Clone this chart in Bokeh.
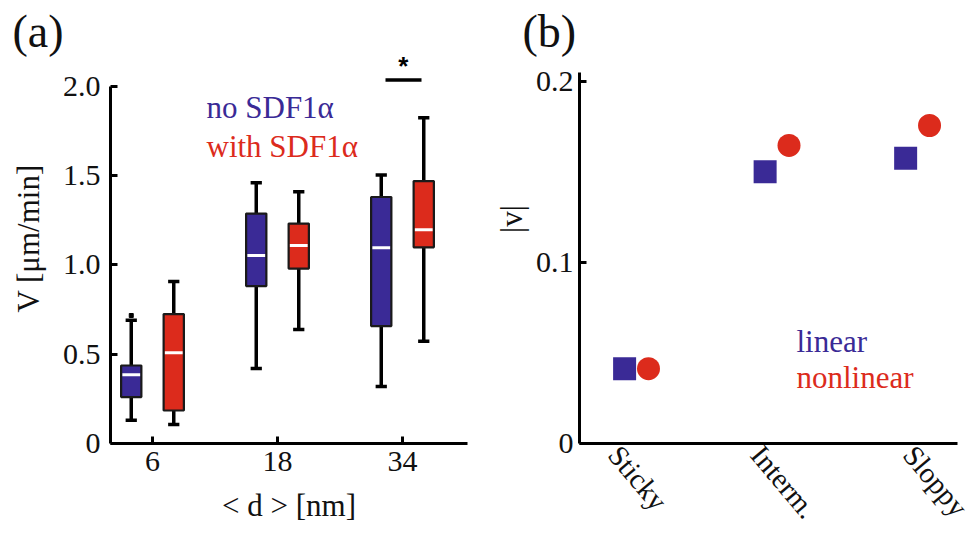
import math
from bokeh.plotting import figure
from bokeh.layouts import row
from bokeh.models import ColumnDataSource, Range1d, FixedTicker, Label
from bokeh.embed import file_html
from bokeh.resources import INLINE

# ---------------- data: panel (a) ----------------
d_labels = ["6", "18", "34"]
d_pos = [1, 2, 3]
no_low = [0.13, 0.42, 0.32]
no_q1 = [0.26, 0.882, 0.658]
no_med = [0.385, 1.053, 1.097]
no_q3 = [0.437, 1.288, 1.381]
no_high = [0.69, 1.461, 1.504]
no_outlier_x = [1]
no_outlier_y = [0.717]
with_low = [0.106, 0.638, 0.573]
with_q1 = [0.185, 0.98, 1.099]
with_med = [0.508, 1.109, 1.198]
with_q3 = [0.725, 1.232, 1.47]
with_high = [0.907, 1.411, 1.825]

# ---------------- data: panel (b) ----------------
regimes = ["Sticky", "Interm.", "Sloppy"]
regime_pos = [1, 2, 3]
regime_label_pos = [0.84, 1.855, 2.94]
v_linear = [0.0413, 0.150, 0.1575]
v_nonlinear = [0.0413, 0.1646, 0.1756]

BLUE = "#3a2a96"
RED = "#dc2b1c"
FONT = "Liberation Serif"
TICK_FS = "30px"
LAB_FS = "31px"
NB = "\u00a0"


def style_axes(p):
    for ax in (p.xaxis[0], p.yaxis[0]):
        ax.axis_line_width = 3
        ax.axis_line_color = "black"
        ax.major_tick_line_width = 3
        ax.major_tick_line_color = "black"
        ax.major_tick_in = 7
        ax.major_tick_out = 0
        ax.minor_tick_line_color = None
        ax.major_label_text_font = FONT
        ax.major_label_text_font_size = TICK_FS
        ax.major_label_text_color = "#111111"
        ax.axis_label_text_font = FONT
        ax.axis_label_text_font_size = LAB_FS
        ax.axis_label_text_font_style = "normal"
        ax.axis_label_text_color = "#111111"
    p.xgrid.visible = False
    p.ygrid.visible = False
    p.outline_line_color = None
    p.title.text_font = FONT
    p.title.text_font_size = "46px"
    p.title.text_font_style = "normal"
    p.title.text_color = "#111111"
    p.title.align = "left"
    p.title.standoff = 0


def text_label(x, y, text, color, size=LAB_FS, font=FONT, **kw):
    return Label(x=x, y=y, text=text, text_font=font, text_font_size=size,
                 text_color=color, **kw)


# ================= panel (a) =================
p1 = figure(width=490, height=537, output_backend="svg", toolbar_location=None,
            title="(a)",
            x_range=Range1d(0.664, 3.52), y_range=Range1d(0, 2.168),
            min_border_left=110, min_border_right=23, min_border_top=56, min_border_bottom=94)
style_axes(p1)
p1.title.offset = -98
p1.xaxis.ticker = FixedTicker(ticks=d_pos)
p1.xaxis.major_label_overrides = {pos: lab for pos, lab in zip(d_pos, d_labels)}
p1.yaxis.ticker = FixedTicker(ticks=[0, 0.5, 1.0, 1.5, 2.0])
p1.yaxis.major_label_overrides = {0: "0", 0.5: "0.5", 1: "1.0", 1.5: "1.5", 2: "2.0"}
p1.yaxis.bounds = (0, 2.0)
p1.xaxis.axis_label = "< d > [nm]"
p1.yaxis.axis_label = NB * 3 + "V [\u03bcm/min]"
p1.yaxis.major_label_standoff = 10
p1.xaxis.major_label_standoff = 8
p1.yaxis.axis_label_standoff = 14
p1.xaxis.axis_label_standoff = 14

OFF = 0.17
BW = 0.162
CAP = 0.09


def draw_boxes(p, pos, low, q1, med, q3, high, color, off):
    xs = [x + off for x in pos]
    src = ColumnDataSource(dict(
        x=xs, low=low, q1=q1, med=med, q3=q3, high=high,
        cl=[x - CAP / 2 for x in xs], cr=[x + CAP / 2 for x in xs],
        ml=[x - BW / 2 + 0.01 for x in xs], mr=[x + BW / 2 - 0.01 for x in xs]))
    p.segment(x0="x", y0="q3", x1="x", y1="high", source=src, line_color="black", line_width=3.5)
    p.segment(x0="x", y0="low", x1="x", y1="q1", source=src, line_color="black", line_width=3.5)
    p.segment(x0="cl", y0="high", x1="cr", y1="high", source=src, line_color="black", line_width=3.5)
    p.segment(x0="cl", y0="low", x1="cr", y1="low", source=src, line_color="black", line_width=3.5)
    p.vbar(x="x", bottom="q1", top="q3", width=BW, source=src, fill_color=color,
           line_color="#1a1a1a", line_width=2.2)
    p.segment(x0="ml", y0="med", x1="mr", y1="med", source=src, line_color="white", line_width=3)


draw_boxes(p1, d_pos, no_low, no_q1, no_med, no_q3, no_high, BLUE, -OFF)
draw_boxes(p1, d_pos, with_low, with_q1, with_med, with_q3, with_high, RED, OFF)
p1.scatter([x - OFF for x in no_outlier_x], no_outlier_y, marker="square", size=4,
           fill_color="black", line_color="black")

# significance marker
p1.segment(x0=[2.864], y0=[2.037], x1=[3.152], y1=[2.037], line_color="black", line_width=3.5)
p1.add_layout(text_label(3.006, 2.115, "*", "black", size="26px", font="Liberation Sans",
                         text_font_style="bold", text_align="center", text_baseline="middle"))

# legend texts
p1.add_layout(text_label(1.432, 1.883, "no SDF1\u03b1", BLUE, text_baseline="alphabetic"))
p1.add_layout(text_label(1.432, 1.663, "with SDF1\u03b1", RED, text_baseline="alphabetic"))

# ================= panel (b) =================
p2 = figure(width=485, height=537, output_backend="svg", toolbar_location=None,
            title="(b)",
            x_range=Range1d(0.594, 3.284), y_range=Range1d(0, 0.2137),
            min_border_left=89, min_border_right=18, min_border_top=56, min_border_bottom=89)
style_axes(p2)
p2.title.offset = -57
p2.xaxis.ticker = FixedTicker(ticks=regime_label_pos)
p2.xaxis.major_label_overrides = {t: lab for t, lab in zip(regime_label_pos, regimes)}
p2.xaxis.major_tick_in = 0
p2.xaxis.major_label_orientation = -0.87
p2.xaxis.major_label_text_font_size = "29px"
p2.xaxis.major_label_standoff = 6
p2.yaxis.ticker = FixedTicker(ticks=[0, 0.1, 0.2])
p2.yaxis.major_label_overrides = {0: "0", 0.1: "0.1", 0.2: "0.2"}
p2.yaxis.bounds = (0, 0.205)
p2.yaxis.axis_label = NB * 8 + "|v|"
p2.yaxis.major_label_standoff = 6
p2.yaxis.axis_label_standoff = 4

MOFF = 0.085
p2.scatter([x - MOFF for x in regime_pos], v_linear, marker="square", size=23,
           fill_color=BLUE, line_color=None)
p2.scatter([x + MOFF for x in regime_pos], v_nonlinear, marker="circle", size=23,
           fill_color=RED, line_color=None)

p2.add_layout(text_label(2.138, 0.0565, "linear", BLUE, text_baseline="alphabetic"))
p2.add_layout(text_label(2.138, 0.0362, "nonlinear", RED, text_baseline="alphabetic"))

layout = row(p1, p2)
open("out.html", "w").write(file_html(layout, INLINE))
